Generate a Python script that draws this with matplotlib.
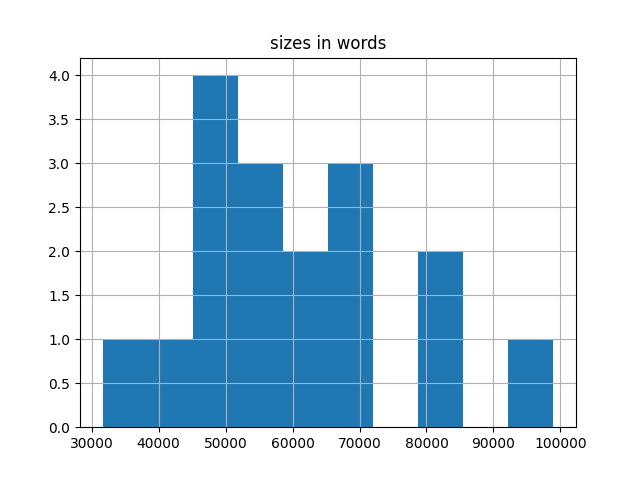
import pandas as pd
import matplotlib
matplotlib.use("Agg")
import matplotlib.pyplot as plt

# word counts per document (estimated from the histogram)
sizes_in_words = [31645, 41000, 46000, 47500, 49000, 51000, 53000, 55000,
                  57000, 60000, 63000, 66000, 68000, 70500, 80000, 83000,
                  98950]

df = pd.DataFrame({"sizes in words": sizes_in_words})

fig, ax = plt.subplots(figsize=(6.4, 4.8), dpi=100)
df.hist(column="sizes in words", ax=ax)

fig.savefig("out.png")
